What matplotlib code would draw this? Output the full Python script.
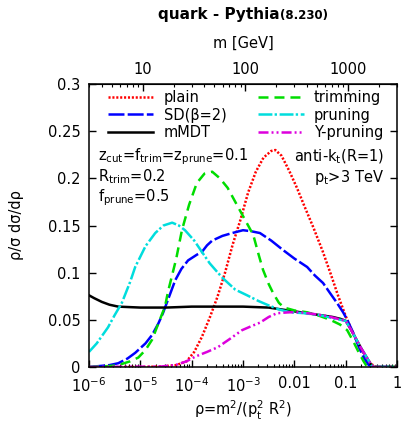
import numpy as np
import matplotlib
matplotlib.use("Agg")
import matplotlib.pyplot as plt

plt.rcParams["font.family"] = ["DejaVu Sans"]
plt.rcParams["mathtext.fontset"] = "dejavusans"
plt.rcParams["mathtext.default"] = "regular"
plt.rcParams["lines.scale_dashes"] = False

PT_GEV = 3000.0  # jet pt used for the mass axis
R_JET = 1.0

# log10(rho) sample points and rho/sigma dsigma/drho for each groomer
plain_lr = [-6.0, -5.0, -4.6, -4.3, -4.1, -3.95, -3.8, -3.65, -3.5, -3.35, -3.2, -3.05, -2.9,
            -2.75, -2.6, -2.45, -2.37, -2.25, -2.1, -1.95, -1.8, -1.63, -1.45, -1.3, -1.15,
            -1.0, -0.85, -0.72, -0.6, -0.5, -0.4, 0.0]
plain_y = [0.0, 0.0, 0.0005, 0.002, 0.006, 0.016, 0.032, 0.052, 0.074, 0.100, 0.130, 0.156, 0.185,
           0.207, 0.222, 0.229, 0.230, 0.224, 0.208, 0.190, 0.170, 0.148, 0.123, 0.100, 0.076,
           0.054, 0.035, 0.021, 0.010, 0.003, 0.0, 0.0]

sd_lr = [-6.0, -5.9, -5.6, -5.43, -5.25, -5.1, -4.9, -4.77, -4.65, -4.56, -4.45, -4.32, -4.2,
         -4.07, -3.9, -3.8, -3.7, -3.6, -3.4, -3.21, -3.0, -2.85, -2.67, -2.45, -2.22, -2.0,
         -1.75, -1.6, -1.44, -1.3, -1.17, -1.05, -0.97, -0.85, -0.75, -0.65, -0.55, -0.45, 0.0]
sd_y = [0.0, 0.0005, 0.002, 0.004, 0.009, 0.015, 0.025, 0.034, 0.046, 0.057, 0.073, 0.092, 0.104,
        0.113, 0.119, 0.122, 0.129, 0.134, 0.139, 0.142, 0.145, 0.144, 0.142, 0.134, 0.124, 0.115,
        0.106, 0.097, 0.089, 0.078, 0.068, 0.058, 0.050, 0.036, 0.022, 0.010, 0.002, 0.0, 0.0]

mmdt_lr = [-6.0, -5.9, -5.75, -5.6, -5.43, -5.0, -4.5, -4.0, -3.5, -3.0, -2.5, -2.25, -2.0,
           -1.75, -1.5, -1.25, -1.1, -1.0, -0.9, -0.8, -0.7, -0.6, -0.5, -0.45, 0.0]
mmdt_y = [0.076, 0.073, 0.069, 0.066, 0.064, 0.063, 0.063, 0.064, 0.064, 0.064, 0.063, 0.061, 0.059,
          0.057, 0.055, 0.053, 0.051, 0.049, 0.040, 0.030, 0.020, 0.011, 0.002, 0.0, 0.0]

trim_lr = [-6.0, -5.6, -5.43, -5.2, -5.04, -4.9, -4.77, -4.65, -4.52, -4.46, -4.3, -4.19, -4.05,
           -3.9, -3.75, -3.6, -3.45, -3.3, -3.15, -3.0, -2.8, -2.7, -2.61, -2.5, -2.41, -2.3,
           -2.2, -2.0, -1.75, -1.5, -1.3, -1.11, -0.97, -0.85, -0.75, -0.65, -0.58, 0.0]
trim_y = [0.0, 0.001, 0.002, 0.006, 0.010, 0.018, 0.029, 0.046, 0.064, 0.080, 0.115, 0.145, 0.172,
          0.195, 0.205, 0.207, 0.200, 0.190, 0.175, 0.160, 0.140, 0.120, 0.103, 0.088, 0.078, 0.068,
          0.063, 0.060, 0.058, 0.054, 0.050, 0.045, 0.039, 0.027, 0.016, 0.006, 0.0, 0.0]

prune_lr = [-6.0, -5.85, -5.63, -5.5, -5.36, -5.2, -5.1, -4.9, -4.71, -4.55, -4.38, -4.25, -4.13,
            -3.95, -3.8, -3.65, -3.49, -3.39, -3.15, -2.92, -2.7, -2.53, -2.3, -2.08, -1.8, -1.5,
            -1.2, -1.0, -0.9, -0.8, -0.7, -0.6, -0.5, -0.45, 0.0]
prune_y = [0.016, 0.025, 0.042, 0.055, 0.068, 0.090, 0.106, 0.128, 0.142, 0.150, 0.153, 0.150, 0.145,
           0.134, 0.122, 0.110, 0.100, 0.094, 0.082, 0.076, 0.070, 0.066, 0.061, 0.058, 0.057, 0.055,
           0.051, 0.049, 0.040, 0.030, 0.020, 0.011, 0.002, 0.0, 0.0]

ypr_lr = [-6.0, -4.6, -4.32, -4.1, -3.93, -3.7, -3.49, -3.25, -3.02, -2.85, -2.67, -2.5, -2.34,
          -2.1, -1.89, -1.6, -1.36, -1.15, -1.0, -0.9, -0.8, -0.7, -0.6, -0.5, -0.45, 0.0]
ypr_y = [0.0, 0.0005, 0.002, 0.006, 0.011, 0.016, 0.021, 0.030, 0.039, 0.043, 0.047, 0.053, 0.057,
         0.058, 0.058, 0.056, 0.054, 0.051, 0.049, 0.040, 0.030, 0.020, 0.011, 0.002, 0.0, 0.0]

curves = [
    ("plain", plain_lr, plain_y, "#ff0000", (0, (1.5, 1.3))),
    ("SD(β=2)", sd_lr, sd_y, "#0000ff", (0, (11.5, 2.3))),
    ("mMDT", mmdt_lr, mmdt_y, "#000000", "-"),
    ("trimming", trim_lr, trim_y, "#00dd00", (0, (7.2, 4.3))),
    ("pruning", prune_lr, prune_y, "#00dddd", (0, (10, 1.6, 1.7, 1.9))),
    ("Y-pruning", ypr_lr, ypr_y, "#dd00dd", (0, (7.2, 2.2, 1.4, 2.2, 1.4, 2.2))),
]

x_tick_vals = [1e-6, 1e-5, 1e-4, 1e-3, 1e-2, 1e-1, 1.0]
x_tick_labels = ["$10^{-6}$", "$10^{-5}$", "$10^{-4}$", "$10^{-3}$", "0.01", "0.1", "1"]
y_tick_vals = [0.0, 0.05, 0.1, 0.15, 0.2, 0.25, 0.3]
y_tick_labels = ["0", "0.05", "0.1", "0.15", "0.2", "0.25", "0.3"]
m_tick_vals = [10, 100, 1000]
m_tick_labels = ["10", "100", "1000"]

FS = 10.5

fig = plt.figure(figsize=(4.01, 4.21), dpi=100)
ax = fig.add_axes([89 / 401, 1 - 367 / 421, 308 / 401, 283 / 421])

for label, lr, yv, col, ls in curves:
    ax.plot(10.0 ** np.asarray(lr), yv, color=col, linestyle=ls, lw=1.8, label=label)

ax.set_xscale("log")
ax.set_xlim(1e-6, 1.0)
ax.set_ylim(0, 0.3)
ax.set_xticks(x_tick_vals)
ax.set_xticklabels(x_tick_labels, fontsize=FS)
ax.set_yticks(y_tick_vals)
ax.set_yticklabels(y_tick_labels, fontsize=FS)
ax.xaxis.set_minor_locator(matplotlib.ticker.LogLocator(base=10, subs=np.arange(2, 10), numticks=20))
ax.xaxis.set_minor_formatter(matplotlib.ticker.NullFormatter())
ax.tick_params(axis="both", which="major", direction="in", length=5, width=1.0, pad=6)
ax.tick_params(axis="x", which="major", pad=6.5)
ax.tick_params(axis="both", which="minor", direction="in", length=2.5, width=0.8)
ax.tick_params(axis="x", top=False)
ax.tick_params(axis="y", right=True)
for sp in ax.spines.values():
    sp.set_linewidth(1.1)

ax.set_xlabel(r"ρ=m$^2$/(p$_t^2$ R$^2$)", fontsize=FS, labelpad=3)
ax.set_ylabel("ρ/σ dσ/dρ", fontsize=FS, labelpad=17)


def rho_to_m(r):
    return PT_GEV * R_JET * np.sqrt(np.clip(r, 1e-30, None))


def m_to_rho(m):
    return (np.asarray(m) / (PT_GEV * R_JET)) ** 2


secax = ax.secondary_xaxis("top", functions=(rho_to_m, m_to_rho))
secax.set_xticks(m_tick_vals)
secax.set_xticklabels(m_tick_labels, fontsize=FS)
secax.xaxis.set_minor_locator(matplotlib.ticker.LogLocator(base=10, subs=np.arange(2, 10), numticks=20))
secax.xaxis.set_minor_formatter(matplotlib.ticker.NullFormatter())
secax.tick_params(axis="x", which="major", direction="in", length=5, width=1.0, pad=5)
secax.tick_params(axis="x", which="minor", direction="in", length=2.5, width=0.8)
secax.set_xlabel("m [GeV]", fontsize=FS, labelpad=10)

leg = ax.legend(loc="upper left", bbox_to_anchor=(0.062, 0.978), ncol=2, frameon=False,
                fontsize=FS, handlelength=3.1, handletextpad=0.7, columnspacing=2.2,
                labelspacing=0.16, borderpad=0, borderaxespad=0)

ax.text(0.03, 0.742, r"z$_{cut}$=f$_{trim}$=z$_{prune}$=0.1", transform=ax.transAxes,
        fontsize=FS, ha="left", va="center")
ax.text(0.03, 0.671, r"R$_{trim}$=0.2", transform=ax.transAxes, fontsize=FS, ha="left", va="center")
ax.text(0.03, 0.600, r"f$_{prune}$=0.5", transform=ax.transAxes, fontsize=FS, ha="left", va="center")
ax.text(0.958, 0.742, r"anti-k$_t$(R=1)", transform=ax.transAxes, fontsize=FS, ha="right", va="center")
ax.text(0.958, 0.671, r"p$_t$>3 TeV", transform=ax.transAxes, fontsize=FS, ha="right", va="center")

# title: bold main part followed by a smaller bold version tag
fig.canvas.draw()
renderer = fig.canvas.get_renderer()
t1 = fig.text(0, 1 - 19 / 421, "quark - Pythia", fontsize=FS + 0.5, fontweight="bold",
              ha="left", va="baseline")
t2 = fig.text(0, 1 - 19 / 421, "(8.230)", fontsize=FS - 2, fontweight="bold",
              ha="left", va="baseline")
w1 = t1.get_window_extent(renderer).width
w2 = t2.get_window_extent(renderer).width
cx = 243.0
x0 = cx - (w1 + w2) / 2
t1.set_x(x0 / 401)
t2.set_x((x0 + w1) / 401)

fig.savefig("out.png", dpi=100)
